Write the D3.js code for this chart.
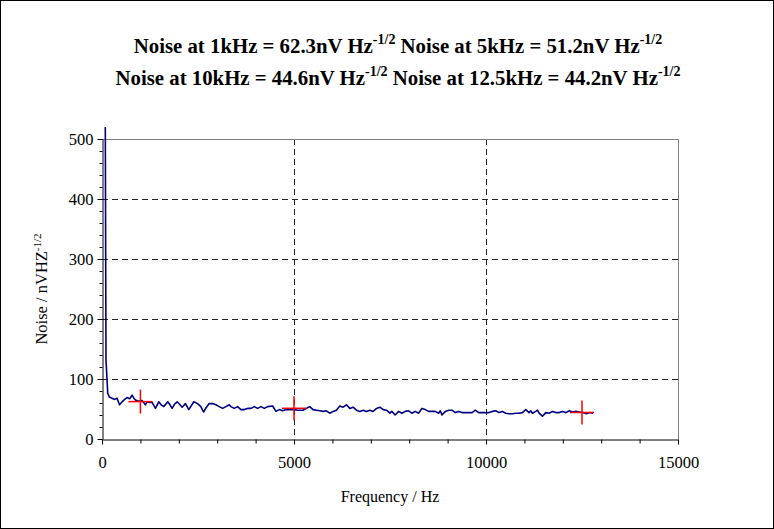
<!DOCTYPE html>
<html>
<head>
<meta charset="utf-8">
<script src="https://cdn.jsdelivr.net/npm/d3@7"></script>
<style>
  body { margin: 0; background: #fff; }
  svg { display: block; }
  text { font-family: "Liberation Serif", "Times New Roman", serif; fill: #000; }
</style>
</head>
<body>
<svg id="chart" width="774" height="529"></svg>
<script>
// Measured noise spectrum (Hz, nV/√Hz)
const frequencies = [
  86, 104, 140, 150, 190, 261, 330, 391, 456, 522, 590, 652, 720, 783, 830, 870, 960,
  1043, 1130, 1174, 1240, 1304, 1391, 1478, 1540, 1609, 1713, 1770, 1826, 1890, 1957,
  2020, 2087, 2174, 2261, 2391, 2487, 2574, 2644, 2720, 2792, 2879, 2966, 3053, 3140,
  3227, 3314, 3357, 3444, 3531, 3618, 3705, 3792, 3879, 3966, 4053, 4140, 4227, 4314,
  4444, 4531, 4618, 4705, 4792, 4922, 5009, 5100, 5235, 5322, 5409, 5496, 5583, 5670,
  5757, 5844, 5931, 6018, 6105, 6192, 6279, 6366, 6453, 6540, 6627, 6714, 6801, 6888,
  6975, 7062, 7149, 7236, 7323, 7410, 7497, 7548, 7635, 7722, 7809, 7896, 7983, 8070,
  8157, 8244, 8331, 8418, 8505, 8592, 8679, 8766, 8810, 8853, 8940, 9027, 9114, 9201,
  9288, 9375, 9462, 9549, 9636, 9723, 9810, 9897, 9991, 10078, 10165, 10252, 10339,
  10426, 10513, 10600, 10687, 10774, 10861, 10948, 11035, 11122, 11166, 11209, 11296,
  11340, 11383, 11470, 11557, 11644, 11731, 11818, 11905, 11992, 12079, 12166, 12253,
  12340, 12427, 12520, 12620, 12700, 12790
];
const noise = [
  520, 132, 88, 76, 70, 68, 66, 68, 57, 62, 66, 69, 67, 73, 68, 65, 63,
  64, 57, 62, 61, 61, 51, 62, 57, 54, 62, 57, 51, 58, 62,
  58, 53, 59, 49, 62, 59, 54, 45, 53, 59, 59, 57, 54, 51,
  54, 57, 54, 51, 54, 49, 49, 51, 51, 54, 51, 54, 51, 54,
  55, 46, 49, 47, 49, 49, 49, 48, 48, 51, 54, 49, 48, 47,
  46, 47, 43, 46, 48, 55, 53, 57, 51, 53, 48, 46, 48, 46,
  48, 46, 51, 53, 49, 48, 43, 46, 40, 46, 43, 46, 47, 43,
  46, 43, 51, 49, 46, 46, 46, 43, 47, 40, 46, 48, 48, 44,
  46, 44, 44, 44, 44, 48, 44, 44, 44, 44, 46, 47, 44,
  46, 43, 42, 42, 43, 43, 44, 49, 44, 47, 43, 46,
  48, 43, 38, 44, 43, 46, 44, 44, 46, 44, 47, 45,
  46, 45, 44, 42, 44, 43
];

// Spot readings marked with crosses
const markerFreq = [1000, 5000, 12500];
const markerNoise = [62.3, 51.2, 44.2];

// Title readings: [frequency label, value label]
const titleRow1 = [["1kHz", "62.3"], ["5kHz", "51.2"]];
const titleRow2 = [["10kHz", "44.6"], ["12.5kHz", "44.2"]];

const xMajorTicks = [0, 5000, 10000, 15000];
const xMinorTicks = [1000, 2000, 3000, 4000, 6000, 7000, 8000, 9000, 11000, 12000, 13000, 14000];
const yMajorTicks = [0, 100, 200, 300, 400, 500];
const yMinorTicks = d3.range(0, 501, 20).filter(v => v % 100 !== 0);

const svg = d3.select("#chart");
const W = 774, H = 529;
const plot = { left: 102, right: 678, top: 139, bottom: 439 };

// Outer frame
svg.append("rect")
  .attr("x", 0.5).attr("y", 0.5)
  .attr("width", W - 1).attr("height", H - 1)
  .attr("fill", "#fff").attr("stroke", "#000").attr("stroke-width", 1);

const x = d3.scaleLinear().domain([0, 15000]).range([plot.left, plot.right]);
const y = d3.scaleLinear().domain([0, 500]).range([plot.bottom, plot.top]);

// Gridlines
const grid = svg.append("g");
grid.selectAll(".hg").data([100, 200, 300, 400]).join("line")
  .attr("x1", plot.left).attr("x2", plot.right)
  .attr("y1", d => Math.round(y(d)) + 0.5).attr("y2", d => Math.round(y(d)) + 0.5)
  .attr("stroke", "#222").attr("stroke-dasharray", "6,4").attr("stroke-width", 1);
grid.selectAll(".vg").data([5000, 10000]).join("line")
  .attr("x1", d => Math.round(x(d)) + 0.5).attr("x2", d => Math.round(x(d)) + 0.5)
  .attr("y1", plot.top).attr("y2", plot.bottom)
  .attr("stroke", "#222").attr("stroke-dasharray", "6,4").attr("stroke-width", 1);

// Plot area border (top and right)
grid.append("path")
  .attr("d", `M${plot.left},${plot.top + 0.5}H${plot.right + 0.5}V${plot.bottom}`)
  .attr("fill", "none").attr("stroke", "#808080").attr("stroke-width", 1);

// Axes
function styleAxis(g) {
  g.selectAll("path.domain").attr("stroke", "#000");
  g.selectAll(".tick line").attr("stroke", "#000");
  g.selectAll(".tick text").attr("font-size", 16.5).attr("font-family", '"Liberation Serif", serif');
}

svg.append("g")
  .attr("transform", `translate(${plot.left + 0.5},0)`)
  .call(d3.axisLeft(y).tickValues(yMinorTicks).tickSize(3).tickSizeOuter(0).tickFormat(""))
  .call(g => g.select("path.domain").remove())
  .call(styleAxis);
svg.append("g")
  .attr("transform", `translate(${plot.left + 0.5},0)`)
  .call(d3.axisLeft(y).tickValues(yMajorTicks).tickSize(5).tickSizeOuter(0).tickPadding(4)
    .tickFormat(d3.format("d")))
  .call(styleAxis);

svg.append("g")
  .attr("transform", `translate(0,${plot.bottom + 0.5})`)
  .call(d3.axisBottom(x).tickValues(xMinorTicks).tickSize(4).tickSizeOuter(0).tickFormat(""))
  .call(g => g.select("path.domain").remove())
  .call(styleAxis);
svg.append("g")
  .attr("transform", `translate(0,${plot.bottom + 0.5})`)
  .call(d3.axisBottom(x).tickValues(xMajorTicks).tickSize(5).tickSizeOuter(0).tickPadding(12)
    .tickFormat(d3.format("d")))
  .call(styleAxis);

// Noise trace
const pts = frequencies.map((f, i) => [f, noise[i]]);
svg.append("path")
  .datum(pts)
  .attr("d", d3.line().x(d => x(d[0])).y(d => y(d[1])))
  .attr("fill", "none").attr("stroke", "#000080").attr("stroke-width", 1.6)
  .attr("stroke-linejoin", "round");

// Spot-reading crosses
const arm = 12;
const marks = svg.append("g").selectAll("g").data(markerFreq.map((f, i) => [f, markerNoise[i]])).join("g")
  .attr("transform", d => `translate(${x(d[0])},${y(d[1])})`);
marks.append("line").attr("x1", -arm).attr("x2", arm).attr("y1", 0).attr("y2", 0)
  .attr("stroke", "#ff0000").attr("stroke-width", 1.5);
marks.append("line").attr("x1", 0).attr("x2", 0).attr("y1", -arm).attr("y2", arm)
  .attr("stroke", "#ff0000").attr("stroke-width", 1.5);

// Title
function titleLine(row, yPos) {
  const t = svg.append("text")
    .attr("x", 398).attr("y", yPos)
    .attr("text-anchor", "middle")
    .attr("font-size", 20.8).attr("font-weight", "bold");
  row.forEach((r, i) => {
    t.append("tspan").attr("dy", i === 0 ? 0 : 9)
      .text(`${i === 0 ? "" : " "}Noise at ${r[0]} = ${r[1]}nV Hz`);
    t.append("tspan").attr("dy", -9).attr("font-size", 14).text("-1/2");
  });
}
titleLine(titleRow1, 53);
titleLine(titleRow2, 85);

// Axis titles
svg.append("text")
  .attr("x", (plot.left + plot.right) / 2).attr("y", 502)
  .attr("text-anchor", "middle").attr("font-size", 16)
  .text("Frequency / Hz");

const yl = svg.append("text")
  .attr("transform", `translate(47,289) rotate(-90)`)
  .attr("text-anchor", "middle").attr("font-size", 16.5);
yl.append("tspan").text("Noise / nVHZ");
yl.append("tspan").attr("dy", -6).attr("font-size", 11).text("-1/2");
</script>
</body>
</html>
